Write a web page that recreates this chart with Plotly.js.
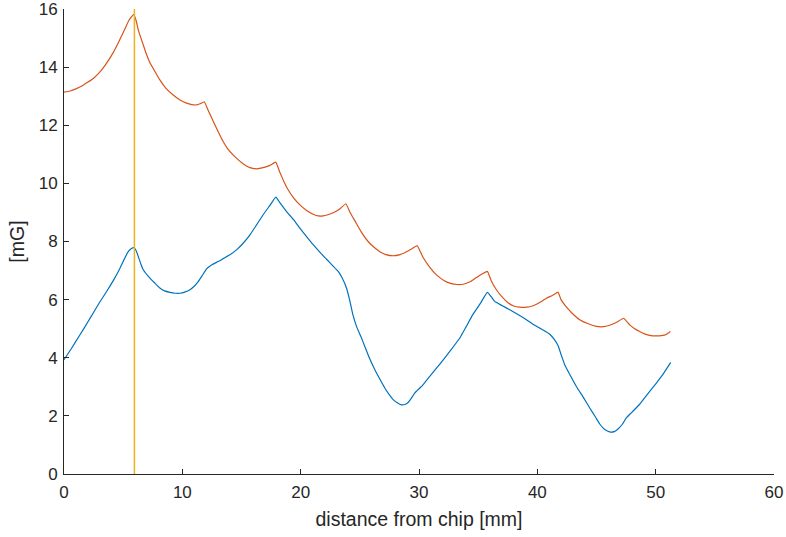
<!DOCTYPE html>
<html>
<head>
<meta charset="utf-8">
<script src="https://cdn.plot.ly/plotly-3.0.1.min.js"></script>
<style>html,body{margin:0;padding:0;background:#fff;}#chart{width:786px;height:537px;}</style>
</head>
<body>
<div id="chart"></div>
<script>
// Orange series (upper curve)
const orangeX = [0, 0.5, 1.0, 1.5, 2.0, 2.5, 3.0, 3.5, 4.16, 4.6, 5.13, 5.5, 5.89, 6.08, 6.3, 6.56, 6.9, 7.26, 7.7, 8.1, 8.6, 9.23, 9.8, 10.3, 10.8, 11.2, 11.5, 11.85, 12.2, 12.6, 13.0, 13.45, 13.9, 14.44, 15.0, 15.71, 16.3, 16.83, 17.4, 17.9, 18.24, 18.6, 18.94, 19.4, 19.93, 20.5, 21.06, 21.5, 21.9, 22.3, 22.74, 23.3, 23.82, 24.2, 24.6, 25.1, 25.7, 26.2, 26.69, 27.2, 27.81, 28.4, 28.94, 29.4, 29.84, 30.35, 30.9, 31.48, 32.1, 32.74, 33.2, 33.73, 34.4, 34.99, 35.4, 35.78, 36.1, 36.54, 37.0, 37.5, 38.0, 38.51, 39.1, 39.64, 40.2, 40.77, 41.3, 41.75, 42.0, 42.31, 42.9, 43.58, 44.3, 44.99, 45.6, 46.11, 46.7, 47.3, 47.8, 48.2, 48.65, 49.0, 49.49, 50.0, 50.48, 50.9, 51.24];
const orangeY = [13.14, 13.18, 13.25, 13.35, 13.48, 13.62, 13.82, 14.08, 14.5, 14.85, 15.3, 15.62, 15.82, 15.62, 15.25, 14.93, 14.52, 14.15, 13.84, 13.56, 13.28, 13.04, 12.87, 12.77, 12.71, 12.7, 12.74, 12.81, 12.5, 12.15, 11.8, 11.44, 11.15, 10.92, 10.72, 10.54, 10.5, 10.54, 10.62, 10.73, 10.38, 10.05, 9.78, 9.5, 9.26, 9.07, 8.94, 8.88, 8.88, 8.92, 8.99, 9.12, 9.3, 8.98, 8.7, 8.34, 8.0, 7.8, 7.65, 7.55, 7.51, 7.55, 7.65, 7.75, 7.86, 7.45, 7.12, 6.85, 6.66, 6.55, 6.52, 6.53, 6.63, 6.8, 6.9, 6.97, 6.65, 6.34, 6.1, 5.9, 5.78, 5.74, 5.74, 5.79, 5.9, 6.05, 6.15, 6.26, 6.0, 5.82, 5.55, 5.31, 5.17, 5.08, 5.07, 5.12, 5.22, 5.36, 5.13, 5.01, 4.9, 4.83, 4.77, 4.75, 4.76, 4.8, 4.9];

// Blue series (lower curve)
const blueX = [0, 0.6, 1.35, 2.0, 2.47, 3.0, 3.6, 4.2, 4.73, 5.1, 5.43, 5.7, 5.91, 6.1, 6.28, 6.5, 6.7, 7.26, 7.7, 8.1, 8.5, 8.95, 9.4, 9.8, 10.2, 10.64, 11.0, 11.34, 11.7, 12.05, 12.5, 13.03, 13.5, 14.02, 14.6, 15.14, 15.7, 16.27, 16.83, 17.4, 17.9, 18.3, 18.81, 19.4, 19.93, 20.5, 21.06, 21.6, 22.19, 22.7, 23.17, 23.5, 23.87, 24.16, 24.4, 24.72, 25.1, 25.42, 25.8, 26.27, 26.7, 27.11, 27.5, 27.81, 28.2, 28.52, 28.8, 29.08, 29.3, 29.65, 30.3, 30.91, 31.76, 32.6, 33.45, 34.0, 34.57, 35.2, 35.78, 36.1, 36.4, 37.0, 37.67, 38.4, 39.08, 39.6, 40.2, 40.6, 41.05, 41.4, 41.75, 42.0, 42.31, 42.8, 43.3, 43.9, 44.43, 44.9, 45.27, 45.7, 46.11, 46.5, 46.82, 47.2, 47.52, 48.0, 48.65, 49.3, 50.06, 50.7, 51.27];
const blueY = [3.93, 4.3, 4.79, 5.22, 5.54, 5.9, 6.28, 6.68, 7.08, 7.4, 7.65, 7.76, 7.79, 7.68, 7.48, 7.22, 7.03, 6.74, 6.56, 6.4, 6.3, 6.25, 6.22, 6.22, 6.26, 6.34, 6.46, 6.62, 6.84, 7.06, 7.2, 7.31, 7.42, 7.54, 7.72, 7.94, 8.22, 8.57, 8.92, 9.24, 9.53, 9.3, 9.03, 8.75, 8.46, 8.17, 7.89, 7.64, 7.39, 7.17, 6.97, 6.75, 6.4, 5.95, 5.5, 5.08, 4.72, 4.39, 4.0, 3.59, 3.26, 2.96, 2.72, 2.56, 2.44, 2.38, 2.39, 2.46, 2.58, 2.79, 3.05, 3.36, 3.78, 4.22, 4.68, 5.08, 5.5, 5.88, 6.25, 6.1, 5.94, 5.8, 5.65, 5.48, 5.31, 5.16, 5.02, 4.93, 4.81, 4.65, 4.42, 4.12, 3.76, 3.38, 3.01, 2.63, 2.27, 1.97, 1.72, 1.53, 1.45, 1.46, 1.55, 1.72, 1.93, 2.13, 2.4, 2.74, 3.13, 3.48, 3.84];

// Vertical marker line
const markerX = [5.95, 5.95];
const markerY = [0, 16];

const xTicks = [0, 10, 20, 30, 40, 50, 60];
const yTicks = [0, 2, 4, 6, 8, 10, 12, 14, 16];

const axisColor = '#262626';
const tickFont = {family: 'Liberation Sans, Arial, sans-serif', size: 17, color: axisColor};
const titleFont = {family: 'Liberation Sans, Arial, sans-serif', size: 19.5, color: axisColor};

const traces = [
  {x: blueX, y: blueY, type: 'scatter', mode: 'lines', line: {color: '#0072BD', width: 1.2, shape: 'spline', smoothing: 0.4}, hoverinfo: 'skip'},
  {x: orangeX, y: orangeY, type: 'scatter', mode: 'lines', line: {color: '#D95319', width: 1.2, shape: 'spline', smoothing: 0.3}, hoverinfo: 'skip'},
  {x: markerX, y: markerY, type: 'scatter', mode: 'lines', line: {color: '#EDB120', width: 1.5}, hoverinfo: 'skip'}
];

const layout = {
  width: 786, height: 537,
  margin: {l: 64, r: 12, t: 9, b: 63},
  paper_bgcolor: '#ffffff', plot_bgcolor: '#ffffff',
  showlegend: false,
  font: tickFont,
  xaxis: {
    range: [0, 60], tickvals: xTicks, ticktext: xTicks.map(String),
    ticks: 'inside', ticklen: 5, tickcolor: axisColor, tickwidth: 1,
    showline: true, linecolor: axisColor, linewidth: 1,
    showgrid: false, zeroline: false,
    tickfont: tickFont, ticklabelstandoff: 3, ticklabeloverflow: 'allow',
    title: {text: 'distance from chip [mm]', font: titleFont, standoff: 10}
  },
  yaxis: {
    range: [0, 16], tickvals: yTicks, ticktext: yTicks.map(String),
    ticks: 'inside', ticklen: 5, tickcolor: axisColor, tickwidth: 1,
    showline: true, linecolor: axisColor, linewidth: 1,
    showgrid: false, zeroline: false,
    tickfont: tickFont, ticklabelstandoff: 2, ticklabeloverflow: 'allow',
    title: {text: '[mG]', font: titleFont, standoff: 8}
  }
};

Plotly.newPlot('chart', traces, layout, {staticPlot: true, displayModeBar: false});
</script>
</body>
</html>
